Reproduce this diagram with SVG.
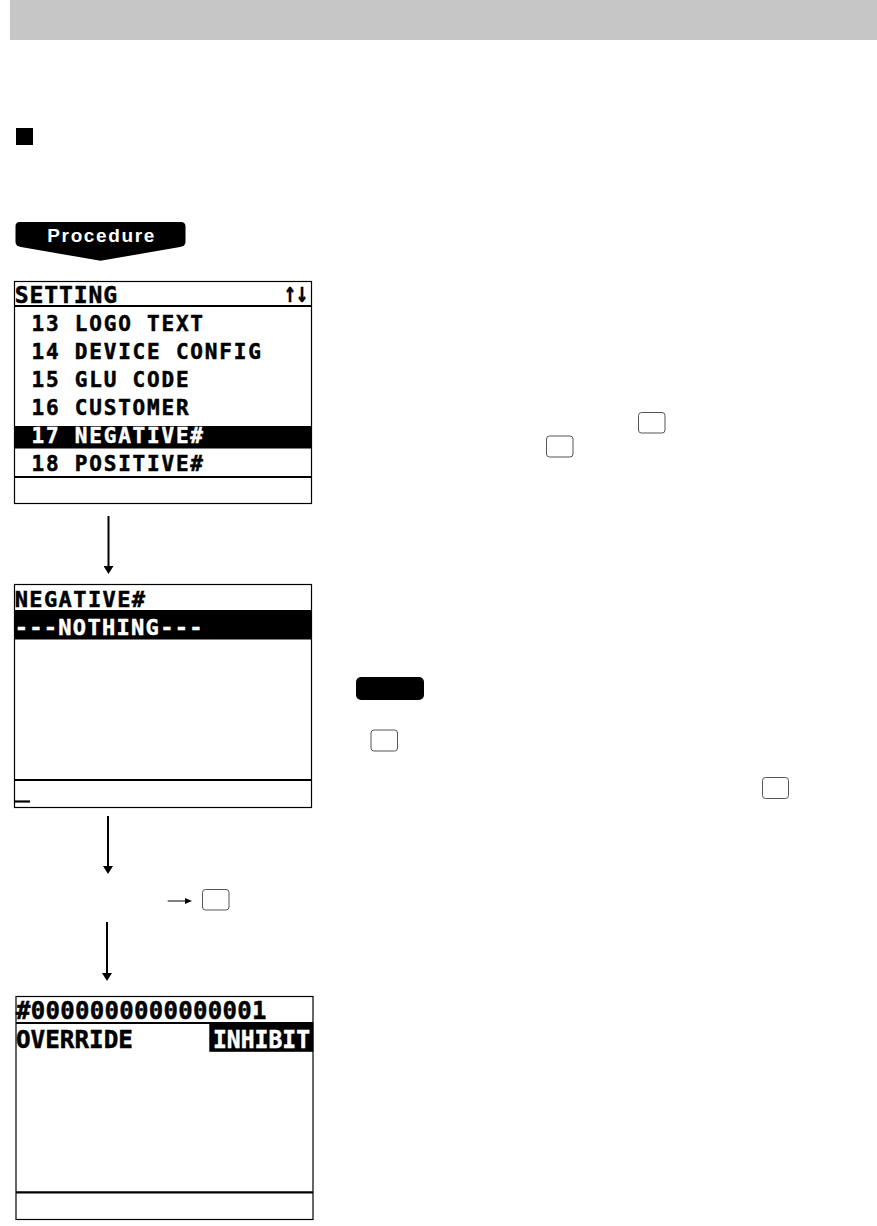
<svg xmlns="http://www.w3.org/2000/svg" width="877" height="1226" viewBox="0 0 877 1226">
<style>
.lcd{font-family:"DejaVu Sans Mono","Liberation Mono",monospace;font-weight:bold;fill:#000;stroke:#000;stroke-width:0.5}
.inv{fill:#fff;stroke:#fff}
.frame{fill:#fff;stroke:#000;stroke-width:1.2}
.rule{stroke:#000;stroke-width:2.2}
.key{fill:#fff;stroke:#555;stroke-width:1}
.conn{stroke:#000;stroke-width:2;fill:none}
.thin{stroke:#000;stroke-width:1;fill:none}
</style>
<defs>
<marker id="ah" viewBox="0 0 8 10" refX="2" refY="5" markerWidth="8" markerHeight="10" markerUnits="userSpaceOnUse" orient="auto">
<path d="M0,0 L8,5 L0,10 Z" fill="#000"/>
</marker>
<marker id="ahs" viewBox="0 0 7 6" refX="1" refY="3" markerWidth="7" markerHeight="6" markerUnits="userSpaceOnUse" orient="auto">
<path d="M0,0 L7,3 L0,6 Z" fill="#000"/>
</marker>
</defs>
<rect width="877" height="1226" fill="#fff"/>
<g id="header"><rect x="10" y="0" width="867" height="40" fill="#c6c6c6"/></g>
<g id="bullet"><rect x="16" y="128" width="17" height="17" fill="#000"/></g>
<g id="procedure">
<path d="M19.5,222 H181 Q185.5,222 185.5,226.5 V242 Q185.5,246 180,247 L100.5,260.8 L21,247 Q15.5,246 15.5,242 V226.5 Q15.5,222 19.5,222 Z" fill="#000"/>
<text x="100.8" y="241.7" text-anchor="middle" font-family="Liberation Sans,Arial,sans-serif" font-weight="bold" font-size="19" fill="#fff" textLength="107" lengthAdjust="spacing">Procedure</text>
</g>
<g id="screen1">
<rect class="frame" x="14.5" y="281.5" width="297" height="222"/>
<line class="rule" x1="14.5" y1="306" x2="311.5" y2="306"/>
<rect x="14.5" y="426" width="297" height="22.5" fill="#000"/>
<line class="rule" x1="14.5" y1="477" x2="311.5" y2="477"/>
<text class="lcd" x="14.7" y="303" font-size="23" letter-spacing="0.9">SETTING</text>
<text class="lcd" x="284" y="302" font-size="28" textLength="24" lengthAdjust="spacingAndGlyphs">↑↓</text>
<g font-size="21" letter-spacing="1.8">
<text class="lcd" x="31.5" y="330.5">13 LOGO TEXT</text>
<text class="lcd" x="31.5" y="358.5">14 DEVICE CONFIG</text>
<text class="lcd" x="31.5" y="386.5">15 GLU CODE</text>
<text class="lcd" x="31.5" y="414.5">16 CUSTOMER</text>
<text class="lcd inv" x="31.5" y="443">17 NEGATIVE#</text>
<text class="lcd" x="31.5" y="470.5">18 POSITIVE#</text>
</g>
</g>
<g id="screen2">
<rect class="frame" x="14.5" y="584.5" width="297" height="223"/>
<text class="lcd" x="14.7" y="607" font-size="22" letter-spacing="1.4">NEGATIVE#</text>
<rect x="14.5" y="610" width="297" height="29.5" fill="#000"/>
<text class="lcd inv" x="14.7" y="635" font-size="22" letter-spacing="1.3">---NOTHING---</text>
<line class="rule" x1="14.5" y1="780" x2="311.5" y2="780"/>
<line class="rule" x1="14.7" y1="801.5" x2="30" y2="801.5"/>
</g>
<g id="step3">
<rect class="key" x="202.5" y="889.5" width="26.5" height="20.5" rx="3"/>
</g>
<g id="screen3">
<rect class="frame" x="16" y="996.5" width="297" height="223"/>
<text class="lcd" x="16" y="1019.3" font-size="24" letter-spacing="0.3">#0000000000000001</text>
<line class="rule" x1="16" y1="1023" x2="313" y2="1023"/>
<rect x="209.3" y="1022.3" width="104" height="29.5" fill="#000"/>
<text class="lcd" x="16" y="1048.3" font-size="25" textLength="117" lengthAdjust="spacingAndGlyphs">OVERRIDE</text>
<text class="lcd inv" x="213" y="1048.3" font-size="25" textLength="97" lengthAdjust="spacingAndGlyphs">INHIBIT</text>
<line class="rule" x1="16" y1="1192.3" x2="313" y2="1192.3"/>
</g>
<g id="keys">
<rect class="key" x="638.5" y="412.5" width="26.5" height="20.5" rx="3"/>
<rect class="key" x="546.5" y="436" width="26.5" height="21" rx="3"/>
<rect x="356" y="677" width="68" height="23" rx="5" fill="#000"/>
<rect class="key" x="371" y="730" width="26.5" height="21" rx="3"/>
<rect class="key" x="762.5" y="777.5" width="26" height="21" rx="3"/>
</g>
<g id="connectors">
<line class="conn" x1="108.5" y1="516" x2="108.5" y2="568" marker-end="url(#ah)"/>
<line class="conn" x1="108" y1="816" x2="108" y2="868" marker-end="url(#ah)"/>
<line class="conn" x1="107" y1="922" x2="107" y2="975" marker-end="url(#ah)"/>
<line class="thin" x1="167.7" y1="901" x2="186" y2="901" marker-end="url(#ahs)"/>
</g>
</svg>
